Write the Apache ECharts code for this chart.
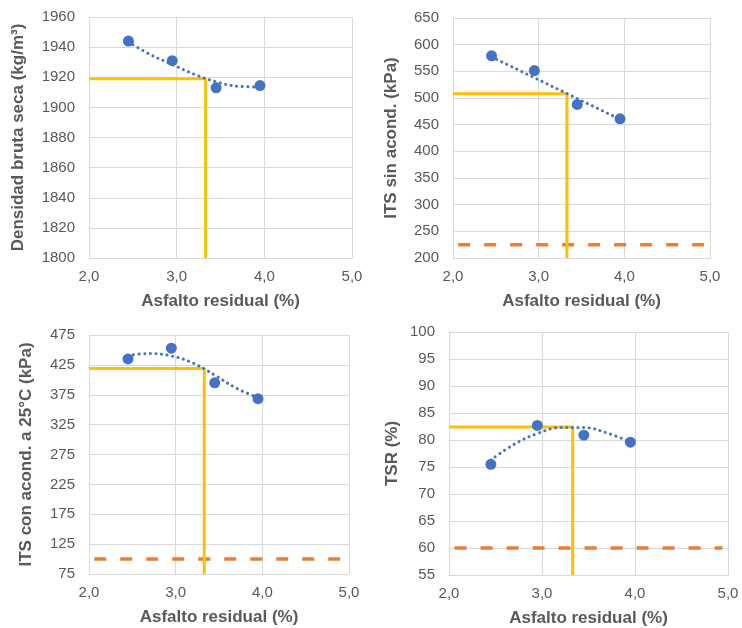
<!DOCTYPE html>
<html>
<head>
<meta charset="utf-8">
<script src="https://cdn.jsdelivr.net/npm/echarts@6/dist/echarts.min.js"></script>
<style>
html,body{margin:0;padding:0;background:#fff;}
#c{width:742px;height:628px;}
</style>
</head>
<body>
<div id="c"></div>
<script>
// ---- data ----
const asfalto = [2.45, 2.95, 3.45, 3.95];
const densidad = [1944, 1931, 1913, 1914.5];
const itsSin = [579, 551.5, 488, 461];
const itsCon = [435, 453, 395, 368.5];
const tsr = [75.5, 82.7, 80.9, 79.6];

// trend lines
const trendX = [2.45, 2.7, 2.95, 3.2, 3.45, 3.7, 3.95];
const densidadTrend = [1943.5, 1935, 1928.5, 1922, 1917, 1914, 1913.5];
const itsSinTrendX = [2.45, 3.95];
const itsSinTrend = [577, 460];
const itsConTrend = [441, 444, 440, 428, 408, 386, 370];
const tsrTrend = [76.3, 79.2, 81.2, 82.3, 82.3, 81.3, 79.6];

// optimum and limits
const optAsfalto = 3.33;
const optValues = [1919, 508, 419, 82.4];
const limits = [null, 225, 100, 60];

// axes
const xTicks = [2, 3, 4, 5];
const yRanges = [[1800, 1960, 20], [200, 650, 50], [75, 475, 50], [55, 100, 5]];
const itsConTicks = ['75', '125', '175', '225', '275', '325', '375', '425', '475'];
const yNames = ['Densidad bruta seca (kg/m³)', 'ITS sin acond. (kPa)', 'ITS con acond. a 25°C (kPa)', 'TSR (%)'];
const xName = 'Asfalto residual (%)';

const pts = [densidad, itsSin, itsCon, tsr];
const trends = [
  [trendX, densidadTrend],
  [itsSinTrendX, itsSinTrend],
  [trendX, itsConTrend],
  [trendX, tsrTrend]
];

const FONT = '"Liberation Sans", Arial, sans-serif';
const TXT = '#595959';
const GRIDC = '#d9d9d9';

const grids = [
  {left: 89, top: 17, width: 263, height: 241},
  {left: 453, top: 18, width: 257, height: 240},
  {left: 89, top: 335, width: 260, height: 239},
  {left: 449, top: 332, width: 279, height: 245}
];
const nameGaps = [62, 53, 54, 48];

const xAxes = [], yAxes = [], series = [];
grids.forEach((g, i) => {
  xAxes.push({
    type: 'value', gridIndex: i, min: xTicks[0], max: xTicks[xTicks.length - 1], interval: 1,
    name: xName, nameLocation: 'middle', nameGap: 35,
    nameTextStyle: {fontFamily: FONT, fontSize: 17, fontWeight: 'bold', color: TXT},
    axisLine: {show: true, lineStyle: {color: GRIDC, width: 1}},
    axisTick: {show: false},
    axisLabel: {fontFamily: FONT, fontSize: 15, color: TXT, margin: 11,
      formatter: v => v.toFixed(1).replace('.', ',')},
    splitLine: {show: true, lineStyle: {color: GRIDC, width: 1}}
  });
  const r = yRanges[i];
  if (i === 2) {
    // value axis for data (hidden), category axis for labels / grid lines
    yAxes.push({
      type: 'value', gridIndex: i, min: r[0], max: r[1], position: 'left',
      show: false, splitLine: {show: false}
    });
  } else {
    yAxes.push({
      type: 'value', gridIndex: i, min: r[0], max: r[1], interval: r[2], position: 'left',
      name: yNames[i], nameLocation: 'middle', nameGap: nameGaps[i],
      nameTextStyle: {fontFamily: FONT, fontSize: 17, fontWeight: 'bold', color: TXT},
      axisLine: {show: true, lineStyle: {color: GRIDC, width: 1}},
      axisTick: {show: false},
      axisLabel: {fontFamily: FONT, fontSize: 15, color: TXT, margin: 14, formatter: v => String(v)},
      splitLine: {show: true, lineStyle: {color: GRIDC, width: 1}}
    });
  }
});
// extra category axis for panel 3 labels
yAxes.push({
  type: 'category', gridIndex: 2, data: itsConTicks, boundaryGap: false, position: 'left',
  name: yNames[2], nameLocation: 'middle', nameGap: nameGaps[2],
  nameTextStyle: {fontFamily: FONT, fontSize: 17, fontWeight: 'bold', color: TXT},
  axisLine: {show: true, lineStyle: {color: GRIDC, width: 1}},
  axisTick: {show: false},
  axisLabel: {fontFamily: FONT, fontSize: 15, color: TXT, margin: 14, interval: 0},
  splitLine: {show: true, interval: 0, lineStyle: {color: GRIDC, width: 1}}
});

grids.forEach((g, i) => {
  const r = yRanges[i];
  // orange limit line
  if (limits[i] !== null) {
    series.push({
      type: 'line', xAxisIndex: i, yAxisIndex: i, silent: true, showSymbol: false,
      data: [[xTicks[0] + 0.06, limits[i]], [xTicks[xTicks.length - 1] - 0.06, limits[i]]],
      lineStyle: {color: '#ED7D31', width: 3.5, type: [12, 14], cap: 'butt'}, z: 2
    });
  }
  // yellow optimum lines
  series.push({
    type: 'line', xAxisIndex: i, yAxisIndex: i, silent: true, showSymbol: false,
    data: [[xTicks[0], optValues[i]], [optAsfalto, optValues[i]], [optAsfalto, r[0]]],
    lineStyle: {color: '#FFC000', width: 3}, z: 3
  });
  // trend line
  const t = trends[i];
  series.push({
    type: 'line', xAxisIndex: i, yAxisIndex: i, silent: true, showSymbol: false,
    smooth: t[0].length > 2 ? 0.4 : false,
    data: t[0].map((x, k) => [x, t[1][k]]),
    lineStyle: {color: '#4472C4', width: 3, type: [0.1, 5.5], cap: 'round'}, z: 4
  });
  // points
  series.push({
    type: 'scatter', xAxisIndex: i, yAxisIndex: i, symbolSize: 11,
    data: asfalto.map((x, k) => [x, pts[i][k]]),
    itemStyle: {color: '#4472C4', opacity: 1}, z: 5
  });
});

const chart = echarts.init(document.getElementById('c'), null, {renderer: 'canvas'});
chart.setOption({
  animation: false,
  backgroundColor: '#ffffff',
  grid: grids,
  xAxis: xAxes,
  yAxis: yAxes,
  series: series
});
</script>
</body>
</html>
